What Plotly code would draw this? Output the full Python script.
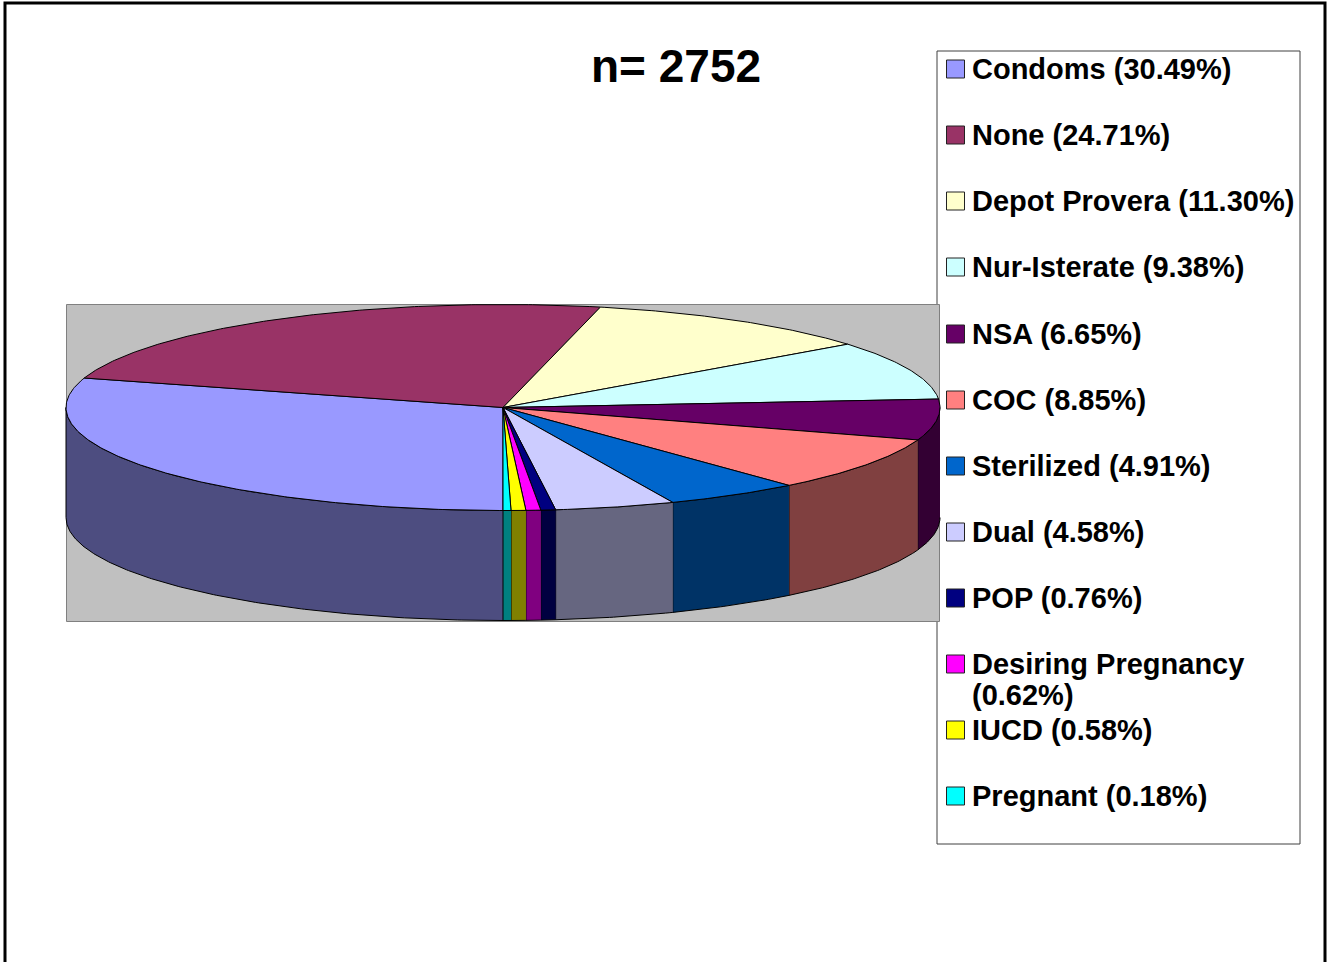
import math
import plotly.graph_objects as go

# ---- data ----
labels = ["Condoms", "None", "Depot Provera", "Nur-Isterate", "NSA", "COC",
          "Sterilized", "Dual", "POP", "Desiring Pregnancy", "IUCD", "Pregnant"]
# percentages printed in the legend
percent = [30.49, 24.71, 11.30, 9.38, 6.65, 8.85, 4.91, 4.58, 0.76, 0.62, 0.58, 0.18]
# slice sizes as they are measured on the picture (the printed labels sum to 103)
slice_share = [30.50, 24.67, 11.21, 9.50, 6.60, 8.80, 5.15, 4.56, 0.56, 0.56, 0.56, 0.30]
top_colors = ["#9999FF", "#993366", "#FFFFCC", "#CCFFFF", "#660066", "#FF8080",
              "#0066CC", "#CCCCFF", "#000080", "#FF00FF", "#FFFF00", "#00FFFF"]
side_colors = ["#4D4D80", "#4D1A33", "#808066", "#668080", "#330033", "#804040",
               "#003366", "#666680", "#000040", "#800080", "#808000", "#008080"]
title_text = "n= 2752"

# ---- geometry of the drawing (page pixels) ----
W, H = 1329, 962
CX, CY, RX, RY, DEPTH = 503.0, 407.5, 437.0, 103.0, 110.0
LEG_X0, LEG_Y0, LEG_X1, LEG_Y1 = 937, 51, 1300, 844
row_y = [69, 135, 201, 267, 334, 400, 466, 532, 598, 664, 730, 796]


def pt(t, dy=0.0):
    r = math.radians(t)
    return CX - RX * math.sin(r), CY + RY * math.cos(r) + dy


def arc(a, b, dy=0.0, step=0.5):
    n = max(2, int(abs(b - a) / step) + 1)
    return [pt(a + (b - a) * i / (n - 1), dy) for i in range(n)]


total = sum(slice_share)
edges = [0.0]
for p in slice_share:
    edges.append(edges[-1] + p / total * 360.0)

fig = go.Figure()


def poly(points, fill, width=1.0, name=""):
    xs = [p[0] for p in points]
    ys = [p[1] for p in points]
    fig.add_trace(go.Scatter(x=xs, y=ys, mode="lines", fill="toself", fillcolor=fill,
                             line=dict(color="#000000", width=width), name=name,
                             hoverinfo="skip", showlegend=False))


# wall of the cylinder: only the part of each slice on the near half of the rim
for i, lab in enumerate(labels):
    for lo, hi in ((0.0, 90.0), (270.0, 360.0)):
        a, b = max(edges[i], lo), min(edges[i + 1], hi)
        if b > a:
            poly(arc(a, b) + arc(b, a, DEPTH), side_colors[i], name=lab)

# top face
for i, lab in enumerate(labels):
    poly([(CX, CY)] + arc(edges[i], edges[i + 1]) + [(CX, CY)], top_colors[i], name=lab)

# legend swatches
fig.add_trace(go.Scatter(x=[955.5] * len(labels), y=row_y, mode="markers",
                         marker=dict(symbol="square", size=18, color=top_colors,
                                     line=dict(color="#222222", width=1)),
                         hoverinfo="skip", showlegend=False))

FONT = "Liberation Sans"
TEXT_X = 969.5
ann = []
for lab, p, y in zip(labels, percent, row_y):
    if lab == "Desiring Pregnancy":
        lines = [(lab, y), (f"({p:.2f}%)", y + 31)]
    else:
        lines = [(f"{lab} ({p:.2f}%)", y)]
    for txt, yy in lines:
        ann.append(dict(x=TEXT_X, y=yy, text=f"<b>{txt}</b>", xanchor="left", yanchor="middle",
                        showarrow=False, font=dict(family=FONT, size=29, color="#000000")))
ann.append(dict(x=676, y=66, text=f"<b>{title_text}</b>", xanchor="center", yanchor="middle",
                showarrow=False, font=dict(family=FONT, size=46, color="#000000")))

shapes = [
    dict(type="rect", x0=LEG_X0, y0=LEG_Y0, x1=LEG_X1, y1=LEG_Y1, fillcolor="#FFFFFF",
         line=dict(color="#404040", width=1), layer="below"),
    dict(type="rect", x0=66.5, y0=304.5, x1=939.5, y1=621.5, fillcolor="#C0C0C0",
         line=dict(color="#808080", width=1), layer="below"),
    dict(type="path", path=f"M 5 {H} L 5 3 L 1325 3 L 1325 {H}",
         line=dict(color="#000000", width=3), layer="below"),
]

fig.update_layout(
    width=W, height=H, margin=dict(l=0, r=0, t=0, b=0), autosize=False,
    paper_bgcolor="#FFFFFF", plot_bgcolor="#FFFFFF", showlegend=False,
    xaxis=dict(range=[0, W], visible=False, fixedrange=True),
    yaxis=dict(range=[H, 0], visible=False, fixedrange=True),
    annotations=ann, shapes=shapes,
)
fig.write_html("out.html", config={"displayModeBar": False},
               post_script="document.body.style.margin='0';document.body.style.overflow='hidden';")
